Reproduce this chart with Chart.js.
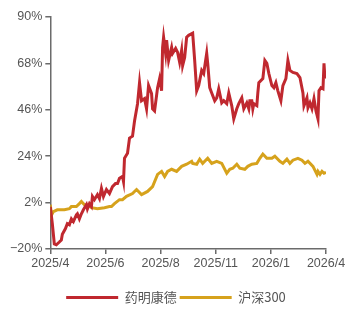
<!DOCTYPE html>
<html>
<head>
<meta charset="utf-8">
<script src="https://cdn.jsdelivr.net/npm/chart.js@4/dist/chart.umd.min.js"></script>
<style>
  html, body { margin: 0; padding: 0; background: #fff; }
  #wrap { width: 345px; height: 309px; }
</style>
</head>
<body>
<div id="wrap"><canvas id="myChart"></canvas></div>
<script>
// x axis is trading-day index, labels spread evenly
const tickLabels = ['2025/4', '2025/6', '2025/8', '2025/11', '2026/1', '2026/4'];
const seriesNames = ['药明康德', '沪深300'];

const wuxiDays = [0, 2, 4, 6, 9, 11, 12, 15, 17, 19, 21, 23, 26, 27, 29, 31, 33, 36, 37, 39, 41, 42, 44, 47, 49, 51, 53, 56, 59, 62, 65, 67, 69, 72, 73,
  74, 77, 79, 82, 84, 87, 89, 91, 94, 96, 98, 101, 102, 104, 107, 109, 111, 112, 113, 115, 116, 118, 121, 122, 125, 127, 129, 131, 132, 134,
  136, 138, 142, 144, 146, 148, 151, 153, 156, 157, 159, 161, 164, 166, 168, 171, 173, 176, 178, 181, 183, 186, 188, 191, 193, 196, 198, 199, 201, 202,
  203, 206, 207, 208, 212, 214, 216, 218, 221, 223, 225, 227, 230, 232, 235, 237, 239, 242, 246, 249, 252, 253, 256, 257, 259, 261, 263, 265, 267, 268,
  270, 272, 273, 274];
const wuxiValues = [0, -8, -17.6, -18, -16.7, -15.7, -13, -10.4, -8, -8.5, -5.7, -7, -3.8, -3.3, -5.7, -3.3, -1.4, 1, -1, 1.5, 0.1, 4.9, 3.4, 5.8, 3.9, 8.7, 4.9, 8.2, 6.3, 9.6, 11, 11, 13.5, 14.4, 12,
  23, 25.4, 32.6, 33.5, 40.7, 48.9, 58.9, 50.3, 51.3, 46.5, 57.5, 53.7, 46.5, 45.5, 56.5, 60.8, 55, 75.6, 80.4, 72.8, 79, 69.4, 75.6, 72.8, 75.1, 73.2, 68.5, 74.2, 67, 70.8,
  80.4, 81.3, 82.3, 69.4, 55, 57.5, 64.7, 63.2, 72.8, 68, 56.5, 54, 50.3, 51.7, 56, 49.3, 50.3, 48.9, 54, 47.9, 41.7, 46.5, 48.9, 51.7, 46.5, 49.3, 46.5, 50.3, 50.3, 46.5,
  48.9, 48, 54, 58.9, 60.8, 69.4, 68, 63.2, 57.5, 56.5, 58.9, 55, 50.3, 57.5, 60.8, 69.4, 64.7, 63.7, 63.2, 61.3, 54, 47.9, 51.7, 47, 49.3, 46.5, 51.3, 45.5, 41.7, 55,
  56.5, 56, 68, 60.8];

const hsDays = [0, 1, 3, 7, 14, 19, 21, 26, 29, 31, 34, 37, 41, 47, 54, 59, 61, 64, 69, 72, 76, 82, 86, 91, 97, 102, 107, 111, 114, 117,
  121, 126, 131, 136, 141, 142, 146, 149, 152, 157, 161, 166, 171, 176, 179, 182, 186, 189, 194, 197, 201, 206, 209, 212, 216, 221, 224, 229, 232, 236,
  239, 242, 247, 251, 254, 257, 262, 266, 267, 269, 271, 273, 275];
const hsValues = [1, -4, -2.3, -1.4, -1.4, -0.9, 0.1, 0.1, 1.5, 2.5, 1.0, 1.0, -0.4, -0.9, -0.4, 0.1, 0.1, 1.5, 3.4, 3.4, 5.0, 6.3, 8.2, 5.8, 7.3, 9.6, 15.4, 16.8, 14.4, 16.8,
  17.8, 16.8, 19.2, 20.2, 21.6, 20.6, 20.2, 22.6, 20.6, 23.0, 20.6, 21.6, 20.6, 15.9, 17.8, 18.3, 20.2, 18.3, 17.8, 19.2, 20.2, 20.6, 23.0, 25.0, 23.0, 23.0, 24.0, 21.6, 20.6, 22.6,
  20.6, 22.1, 23.0, 22.1, 20.6, 21.6, 19.2, 15.4, 16.8, 15.4, 16.8, 15.9, 16.4];

const red = '#C0282F';
const gold = '#D6A21C';
const axisGray = '#6b6b6b';

const toPoints = (xs, ys) => xs.map((x, i) => ({ x: x, y: ys[i] }));

Chart.defaults.font.family = "'Liberation Sans', 'Noto Sans CJK SC', sans-serif";
Chart.defaults.color = '#555';

// pull the legend a bit lower
const legendShift = {
    id: 'legendShift',
    beforeInit(chart) {
        const origFit = chart.legend.fit;
        chart.legend.fit = function () {
            origFit.bind(chart.legend)();
            this.height -= 5;
        };
    }
};

var ctx = document.getElementById('myChart').getContext('2d');
var myChart = new Chart(ctx, {
    type: 'line',
    data: {
        datasets: [{
            label: seriesNames[0],
            data: toPoints(wuxiDays, wuxiValues),
            borderColor: red,
            backgroundColor: red,
            borderWidth: 3,
            pointRadius: 0,
            tension: 0
        }, {
            label: seriesNames[1],
            data: toPoints(hsDays, hsValues),
            borderColor: gold,
            backgroundColor: gold,
            borderWidth: 3,
            pointRadius: 0,
            tension: 0
        }]
    },
    plugins: [legendShift],
    options: {
        responsive: true,
        maintainAspectRatio: false,
        animation: false,
        layout: { padding: { top: 17, right: 0, left: 7, bottom: 0 } },
        plugins: {
            legend: {
                position: 'bottom',
                labels: {
                    boxWidth: 52,
                    boxHeight: 3,
                    padding: 3,
                    color: '#555',
                    font: { size: 13, family: "'Noto Sans CJK SC', 'Liberation Sans', sans-serif" },
                    generateLabels: function (chart) {
                        const items = Chart.defaults.plugins.legend.labels.generateLabels(chart);
                        items.forEach(it => { it.lineWidth = 0; });
                        return items;
                    }
                }
            },
            tooltip: { enabled: false }
        },
        scales: {
            x: {
                type: 'linear',
                min: 0,
                max: 275,
                afterFit: function (scale) {
                    scale.height += 15;
                    scale.paddingRight = 19;
                },
                ticks: {
                    stepSize: 55,
                    maxRotation: 0,
                    padding: 2,
                    font: { size: 12.5 },
                    callback: (v, i) => tickLabels[i]
                },
                grid: { drawOnChartArea: false, drawTicks: true, tickLength: 5, color: axisGray, lineWidth: 1.5 },
                border: { display: true, color: axisGray, width: 1.5 }
            },
            y: {
                min: -20,
                max: 90,
                ticks: {
                    stepSize: 22,
                    padding: 3,
                    font: { size: 12.5 },
                    callback: v => (v < 0 ? '\u2212' + Math.abs(v) : v) + '%'
                },
                grid: { drawOnChartArea: false, drawTicks: true, tickLength: 5, color: axisGray, lineWidth: 1.5 },
                border: { display: true, color: axisGray, width: 1.5 }
            }
        }
    }
});
</script>
</body>
</html>
